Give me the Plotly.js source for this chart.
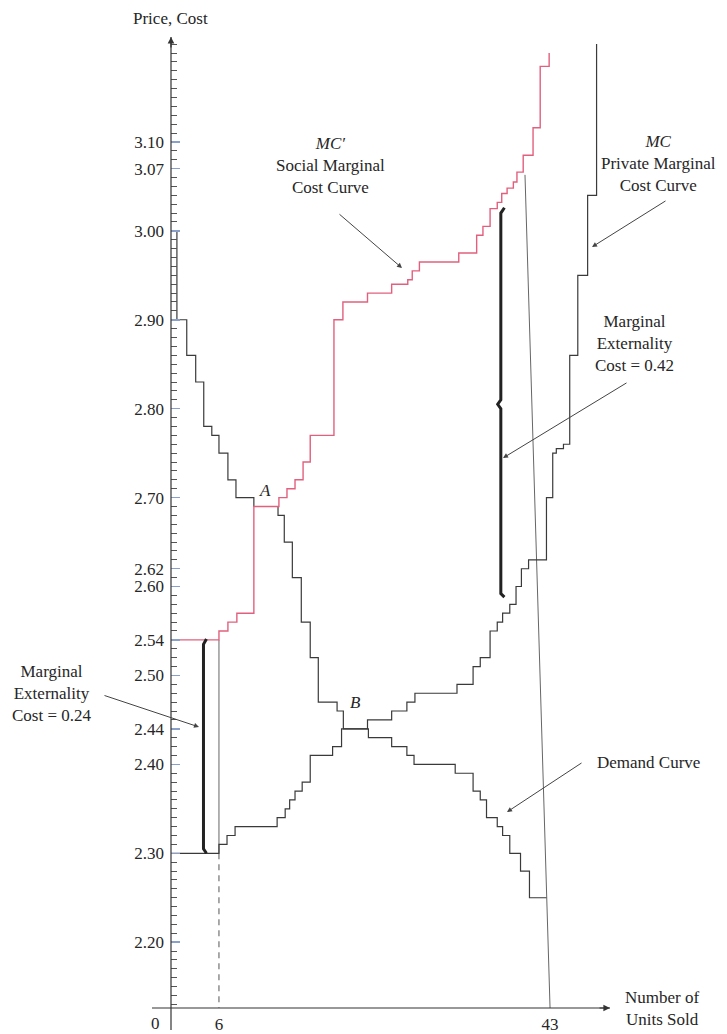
<!DOCTYPE html>
<html><head><meta charset="utf-8">
<script src="https://cdn.plot.ly/plotly-3.0.1.min.js"></script>
<style>html,body{margin:0;padding:0;background:#fff}#chart{width:727px;height:1034px}</style>
</head><body><div id="chart"></div>
<script>
// ---- data ----
// Demand curve: quantity where each price level starts, and the price level
const demandQty   = [0, 1.3, 2.4, 3.4, 4.3, 5.2, 6.0, 7.0, 7.9, 9.9, 12.6, 13.3, 14.2, 15.2, 16.2, 17.1, 19.2, 19.9, 22.7, 25.3, 27.0, 27.8, 32.4, 34.4, 35.2, 35.9, 37.1, 37.7, 38.5, 39.7, 40.7, 42.6];
const demandPrice = [3.00, 2.90, 2.86, 2.83, 2.78, 2.77, 2.75, 2.72, 2.70, 2.69, 2.68, 2.65, 2.61, 2.56, 2.52, 2.47, 2.46, 2.44, 2.43, 2.42, 2.41, 2.40, 2.39, 2.37, 2.36, 2.34, 2.33, 2.32, 2.30, 2.28, 2.25, 2.25];
// Private marginal cost curve MC
const mcQty   = [0, 6.0, 6.9, 7.8, 12.5, 13.4, 13.9, 14.5, 15.3, 16.2, 18.7, 19.7, 22.6, 25.3, 27.0, 27.9, 32.6, 34.4, 35.2, 36.3, 37.1, 37.7, 38.5, 39.2, 39.8, 40.6, 42.6, 43.3, 43.7, 44.5, 45.2, 46.1, 47.2, 48.2];
const mcPrice = [2.30, 2.31, 2.32, 2.33, 2.34, 2.35, 2.36, 2.37, 2.38, 2.41, 2.42, 2.44, 2.45, 2.46, 2.47, 2.48, 2.49, 2.51, 2.52, 2.55, 2.56, 2.57, 2.58, 2.60, 2.62, 2.63, 2.70, 2.75, 2.755, 2.76, 2.86, 2.95, 3.04, 3.21];
// Social marginal cost curve MC'
const socialQty   = [0, 6.0, 7.0, 8.0, 9.9, 12.7, 13.6, 14.5, 15.4, 16.2, 18.85, 19.85, 22.6, 25.3, 27.1, 27.6, 28.4, 32.8, 34.8, 35.5, 36.3, 37.1, 37.6, 38.2, 38.9, 39.3, 40.0, 41.1, 41.9, 42.9];
const socialPrice = [2.54, 2.55, 2.56, 2.57, 2.69, 2.70, 2.71, 2.72, 2.74, 2.77, 2.90, 2.92, 2.93, 2.94, 2.945, 2.955, 2.965, 2.975, 2.995, 3.005, 3.025, 3.032, 3.042, 3.048, 3.055, 3.066, 3.085, 3.116, 3.185, 3.20];
// Marginal externality brackets
const ext024Qty   = [4.6, 4.27, 4.27, 4.6];
const ext024Price = [2.541, 2.535, 2.305, 2.30];
const ext042Qty   = [37.9, 37.5, 37.5, 37.15, 37.5, 37.5, 37.9];
const ext042Price = [3.026, 3.02, 2.81, 2.805, 2.80, 2.592, 2.588];
// Reference lines
const priceMin = 2.126, priceMax = 3.218;
const qtyMin = 0.64, qtyMax = 49.7;
const line43Qty = [40.2, 43.0];
const line43Price = [3.063, priceMin];
const line6Qty = [6, 6];
const line6SolidPrice = [2.54, 2.30];
const line6DashPrice = [2.30, priceMin];
// Tick labels
const priceTicks = [2.20, 2.30, 2.40, 2.44, 2.50, 2.54, 2.60, 2.62, 2.70, 2.80, 2.90, 3.00, 3.07, 3.10];
const priceTickLabels = priceTicks.map(v => v.toFixed(2));
const qtyTicks = [6, 43];
const qtyTickLabels = ['6', '43'];

// ---- styling ----
const FONT = "'Liberation Serif', 'DejaVu Serif', serif";
const INK = '#262626';
const CURVE = '#3a3a3a';
const PINK = '#e2607e';

const traces = [
  {x: line6Qty, y: line6DashPrice, mode: 'lines', line: {color: '#555', width: 1, dash: '6px,5px'}},
  {x: line6Qty, y: line6SolidPrice, mode: 'lines', line: {color: '#666', width: 1}},
  {x: line43Qty, y: line43Price, mode: 'lines', line: {color: '#666', width: 1}},
  {x: mcQty, y: mcPrice, mode: 'lines', line: {color: CURVE, width: 1.2, shape: 'hv'}},
  {x: demandQty, y: demandPrice, mode: 'lines', line: {color: CURVE, width: 1.2, shape: 'hv'}},
  {x: socialQty, y: socialPrice, mode: 'lines', line: {color: PINK, width: 1.4, shape: 'hv'}},
  {x: ext024Qty, y: ext024Price, mode: 'lines', line: {color: '#222', width: 3}},
  {x: ext042Qty, y: ext042Price, mode: 'lines', line: {color: '#222', width: 3}}
];

// pixel -> paper helpers for labels (plot area: x 171..610, y 37..1008)
const PX = px => (px - 171) / 439;
const PY = py => (1008 - py) / 971;

function label(text, px, py, extra) {
  return Object.assign({text: text, x: PX(px), y: PY(py), xref: 'paper', yref: 'paper',
    showarrow: false, xanchor: 'center', yanchor: 'middle',
    font: {family: FONT, size: 17, color: INK}}, extra || {});
}
function pointer(hx, hy, tx, ty) {
  return {text: '', x: PX(hx), y: PY(hy), xref: 'paper', yref: 'paper',
    showarrow: true, ax: tx - hx, ay: ty - hy, arrowhead: 2, arrowsize: 1, arrowwidth: 1,
    arrowcolor: '#444', standoff: 0};
}

const annotations = [
  label('Price, Cost', 170, 18),
  label('<i>MC′</i><br>Social Marginal<br>Cost Curve', 330, 165),
  label('<i>MC</i><br>Private Marginal<br>Cost Curve', 658, 163),
  label('Marginal<br>Externality<br>Cost = 0.42', 634, 343),
  label('Marginal<br>Externality<br>Cost = 0.24', 52, 693),
  label('Demand Curve', 648, 762),
  label('Number of<br>Units Sold', 662, 1008),
  label('0', 155, 1023),
  label('<i>A</i>', 265, 490),
  label('<i>B</i>', 355, 702),
  pointer(402, 268, 338, 213),
  pointer(592, 247, 667, 200),
  pointer(503, 458, 628, 382),
  pointer(199, 727, 103, 695),
  pointer(507, 812, 583, 762),
  // axis arrowheads
  {text: '', x: 0, y: 1, xref: 'paper', yref: 'paper', showarrow: true, ax: 0, ay: 12,
   arrowhead: 2, arrowsize: 1.1, arrowwidth: 1.2, arrowcolor: '#333', standoff: 0},
  {text: '', x: 1, y: 0, xref: 'paper', yref: 'paper', showarrow: true, ax: -12, ay: 0,
   arrowhead: 2, arrowsize: 1.1, arrowwidth: 1.2, arrowcolor: '#333', standoff: 0}
];

const shapes = [
  {type: 'line', xref: 'paper', yref: 'paper', x0: PX(152), x1: 1, y0: 0, y1: 0, line: {color: '#333', width: 1.2}},
  {type: 'line', xref: 'paper', yref: 'paper', x0: 0, x1: 0, y0: PY(1030), y1: 1, line: {color: '#333', width: 1.2}}
];

const layout = {
  width: 727, height: 1034,
  margin: {l: 171, r: 117, t: 37, b: 26, pad: 0},
  paper_bgcolor: '#ffffff', plot_bgcolor: '#ffffff',
  showlegend: false,
  xaxis: {range: [qtyMin, qtyMax], showgrid: false, zeroline: false, showline: false,
    tickmode: 'array', tickvals: qtyTicks, ticktext: qtyTickLabels, ticks: '',
    ticklabelstandoff: 4, tickfont: {family: FONT, size: 17, color: INK}},
  yaxis: {range: [priceMin, priceMax], showgrid: false, zeroline: false, showline: false,
    tickmode: 'array', tickvals: priceTicks, ticktext: priceTickLabels,
    ticks: 'inside', ticklen: 9, tickwidth: 1.5, tickcolor: '#8aa0c8',
    ticklabelstandoff: 6, tickfont: {family: FONT, size: 17, color: INK},
    minor: {tickmode: 'linear', tick0: 2.0, dtick: 0.01, ticks: 'inside', ticklen: 6, tickwidth: 1, tickcolor: '#555'}},
  shapes: shapes,
  annotations: annotations
};

Plotly.newPlot('chart', traces, layout, {displayModeBar: false, staticPlot: true});
</script>
</body></html>
